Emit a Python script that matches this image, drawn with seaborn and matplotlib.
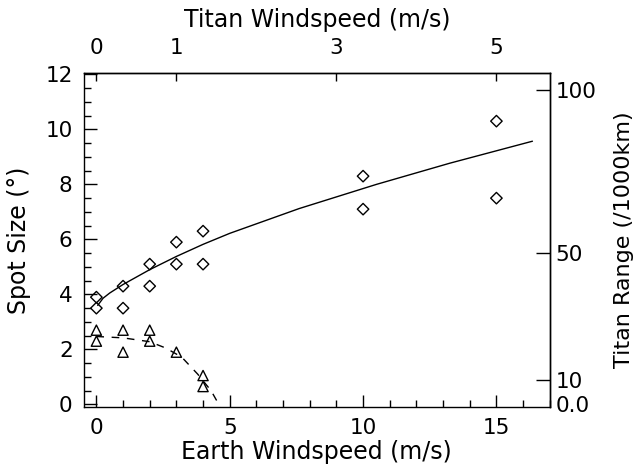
import matplotlib
matplotlib.use("Agg")
import matplotlib.pyplot as plt
import seaborn as sns
from matplotlib.ticker import MultipleLocator

# ---- data ----
diamond_x = [0, 0, 1, 1, 2, 2, 3, 3, 4, 4, 10, 10, 15, 15]
diamond_y = [3.9, 3.5, 4.3, 3.5, 5.1, 4.3, 5.9, 5.1, 6.3, 5.1, 8.3, 7.1, 10.3, 7.5]
triangle_x = [0, 0, 1, 1, 2, 2, 3, 4, 4]
triangle_y = [2.7, 2.3, 2.7, 1.9, 2.7, 2.3, 1.9, 1.05, 0.65]
fit_x = [0.05, 0.25, 0.5, 1, 2, 3, 4, 5, 7.6, 10.5, 13.25, 16.35]
fit_y = [3.6, 3.86, 4.05, 4.36, 4.90, 5.38, 5.82, 6.22, 7.12, 8.0, 8.77, 9.57]
dash_x = [0, 1, 2, 2.6, 3.2, 3.8, 4.3, 4.65]
dash_y = [2.47, 2.42, 2.28, 2.05, 1.72, 1.1, 0.5, -0.1]
titan_ticks = [0, 1, 3, 5]
earth_ticks = [0, 5, 10, 15]
spot_ticks = [0, 2, 4, 6, 8, 10, 12]
range_labels = ["100", "50", "10", "0.0"]
range_pos = [11.43, 5.49, 0.88, 0.0]

sns.set_style("ticks")
plt.rcParams["font.family"] = ["DejaVu Sans"]
for k in ("text.color", "axes.labelcolor", "xtick.color", "ytick.color",
          "xtick.labelcolor", "ytick.labelcolor", "axes.edgecolor"):
    plt.rcParams[k] = "black"

LBL = 17
TCK = 15.5

fig = plt.figure(figsize=(6.4, 4.68), dpi=100)
ax = fig.add_axes([0.131, 0.130, 0.728, 0.714])

sns.lineplot(x=fit_x, y=fit_y, ax=ax, color="black", linewidth=1.0,
             sort=False, estimator=None)
sns.lineplot(x=dash_x, y=dash_y, ax=ax, color="black", linewidth=1.0,
             sort=False, estimator=None, linestyle=(0, (5.5, 5.5)))
sns.scatterplot(x=diamond_x, y=diamond_y, ax=ax, marker="D", s=34,
                facecolor="none", edgecolor="black", linewidth=1.0, zorder=3)
sns.scatterplot(x=triangle_x, y=triangle_y, ax=ax, marker="^", s=54,
                facecolor="none", edgecolor="black", linewidth=1.0, zorder=3)

ax.set_xlim(-0.47, 17.0)
ax.set_ylim(-0.1, 12.05)
ax.set_xticks(earth_ticks)
ax.set_yticks(spot_ticks)
ax.xaxis.set_minor_locator(MultipleLocator(1))
ax.yaxis.set_minor_locator(MultipleLocator(0.5))
for sp in ax.spines.values():
    sp.set_visible(True)
    sp.set_linewidth(1.0)
    sp.set_color("black")
ax.tick_params(which="both", direction="in", top=False, right=False,
               width=1.0, color="black", labelsize=TCK, labelcolor="black")
ax.tick_params(which="major", length=9, pad=8)
ax.tick_params(which="minor", length=5)
ax.tick_params(axis="x", which="major", pad=8)

ax.set_xlabel("Earth Windspeed (m/s)", fontsize=LBL, labelpad=1)
ax.set_ylabel("Spot Size (°)", fontsize=LBL, labelpad=10)

top = ax.secondary_xaxis("top", functions=(lambda x: x / 3.0, lambda t: t * 3.0))
top.set_xticks(titan_ticks)
top.tick_params(direction="in", length=6, width=1.0, labelsize=TCK, pad=11,
                labelcolor="black", color="black")
top.set_xlabel("Titan Windspeed (m/s)", fontsize=LBL, labelpad=8)

right = ax.secondary_yaxis("right", functions=(lambda y: y, lambda y: y))
right.set_yticks(range_pos, labels=range_labels)
right.tick_params(direction="in", length=10, width=1.0, labelsize=TCK, pad=4,
                  labelcolor="black", color="black")
for t in right.yaxis.get_major_ticks()[-1:]:
    t.tick1line.set_visible(False)
    t.tick2line.set_visible(False)
right.set_ylabel("Titan Range (/1000km)", fontsize=16, labelpad=13)

for a in (top, right):
    for sp in a.spines.values():
        sp.set_linewidth(1.0)
        sp.set_color("black")

fig.savefig("out.png", dpi=100)
